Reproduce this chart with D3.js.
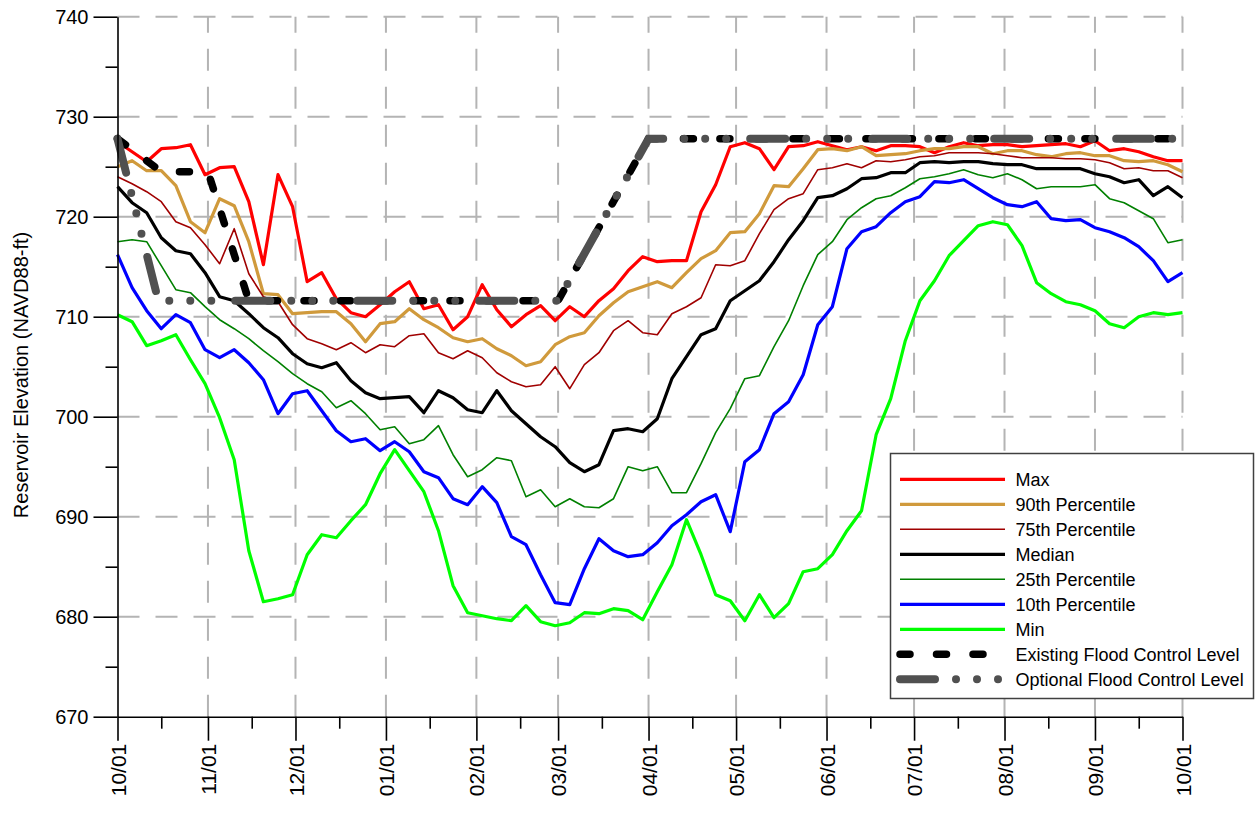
<!DOCTYPE html>
<html>
<head>
<meta charset="utf-8">
<script src="https://cdn.jsdelivr.net/npm/d3@7"></script>
<style>
  body { margin: 0; background: #fff; }
  text { font-family: "Liberation Sans", Arial, sans-serif; fill: #000; }
</style>
</head>
<body>
<div id="container"></div>
<script>
/* CONSTANTS AND GLOBALS */
const width = 1255,
  height = 816,
  plot = { left: 117.5, right: 1182.5, top: 16.7, bottom: 716.7 };

const startDate = new Date(2001, 9, 1),
  endDate = new Date(2002, 9, 1);

// values are read every 5 days starting at 10/01 (last one is 10/01 next year)
const stepDays = 5;

const maxVals = [727.5, 726.5, 725.5, 726.8, 726.9, 727.2, 724.2, 724.9, 725.0, 721.5,
  715.2, 724.2, 721.0, 713.5, 714.4, 711.8, 710.4, 710.0, 711.2, 712.5,
  713.5, 710.8, 711.2, 708.7, 710.0, 713.2, 710.7, 709.0, 710.2, 711.1,
  709.6, 711.0, 710.0, 711.6, 712.8, 714.6, 716.0, 715.5, 715.6, 715.6,
  720.5, 723.2, 727.0, 727.4, 726.8, 724.7, 727.0, 727.1, 727.5, 727.1,
  726.7, 727.0, 726.6, 727.1, 727.1, 727.0, 726.4, 727.0, 727.4, 727.1,
  727.2, 727.2, 727.0, 727.1, 727.2, 727.3, 727.0, 727.6, 726.6, 726.8,
  726.5, 726.0, 725.6, 725.6];

const p90Vals = [725.0, 725.6, 724.6, 724.6, 723.1, 719.5, 718.4, 721.8, 721.1, 717.5,
  712.3, 712.2, 710.3, 710.4, 710.5, 710.5, 709.3, 707.5, 709.3, 709.5,
  710.8, 709.7, 708.9, 707.9, 707.5, 707.8, 706.8, 706.1, 705.1, 705.5,
  707.2, 708.0, 708.4, 710.1, 711.4, 712.5, 713.0, 713.5, 712.9, 714.4,
  715.8, 716.6, 718.4, 718.5, 720.3, 723.1, 723.0, 724.8, 726.7, 726.8,
  726.6, 727.0, 726.1, 726.2, 726.3, 726.6, 726.8, 726.8, 727.0, 727.0,
  726.3, 726.6, 726.6, 726.2, 726.0, 726.3, 726.4, 726.1, 726.1, 725.6,
  725.5, 725.6, 725.2, 724.5];

const p75Vals = [724.0, 723.3, 722.5, 721.5, 719.5, 718.9, 717.2, 715.3, 718.8, 714.3,
  712.0, 711.5, 709.2, 707.8, 707.3, 706.7, 707.4, 706.4, 707.2, 707.0,
  708.1, 708.3, 706.4, 705.8, 706.6, 705.9, 704.4, 703.5, 703.0, 703.2,
  705.0, 702.8, 705.2, 706.4, 708.6, 709.6, 708.4, 708.2, 710.3, 711.0,
  711.9, 715.2, 715.1, 715.6, 718.3, 720.7, 721.8, 722.3, 724.7, 724.9,
  725.3, 724.9, 725.6, 725.5, 725.7, 726.0, 726.1, 726.4, 726.4, 726.4,
  726.3, 726.1, 725.9, 725.9, 725.9, 725.8, 725.8, 725.7, 725.4, 724.8,
  724.9, 724.6, 724.6, 723.9];

const medianVals = [723.0, 721.4, 720.4, 717.9, 716.6, 716.3, 714.4, 712.0, 711.6, 710.3,
  708.9, 707.9, 706.3, 705.3, 704.9, 705.4, 703.6, 702.4, 701.8, 701.9,
  702.0, 700.4, 702.6, 701.9, 700.7, 700.4, 702.6, 700.6, 699.3, 698.0,
  697.0, 695.4, 694.5, 695.2, 698.6, 698.8, 698.5, 699.8, 703.8, 706.0,
  708.2, 708.8, 711.6, 712.6, 713.6, 715.5, 717.7, 719.6, 721.9, 722.1,
  722.8, 723.8, 723.9, 724.4, 724.4, 725.4, 725.5, 725.4, 725.5, 725.5,
  725.3, 725.2, 725.2, 724.8, 724.8, 724.8, 724.8, 724.3, 724.0, 723.4,
  723.7, 722.1, 723.0, 721.9];

const p25Vals = [717.5, 717.7, 717.5, 715.1, 712.7, 712.4, 711.0, 709.7, 708.8, 707.8,
  706.6, 705.5, 704.3, 703.3, 702.5, 700.9, 701.6, 700.3, 698.7, 699.0,
  697.3, 697.7, 699.1, 696.2, 694.0, 694.7, 695.9, 695.6, 692.0, 692.7,
  691.0, 691.8, 691.0, 690.9, 691.8, 695.0, 694.6, 695.0, 692.4, 692.4,
  695.3, 698.4, 700.8, 703.8, 704.1, 707.0, 709.6, 713.1, 716.2, 717.5,
  719.7, 720.9, 721.8, 722.1, 722.9, 723.8, 724.0, 724.3, 724.7, 724.2,
  723.9, 724.3, 723.7, 722.8, 723.0, 723.0, 723.0, 723.2, 721.8, 721.4,
  720.6, 719.8, 717.4, 717.7];

const p10Vals = [716.2, 712.9, 710.6, 708.8, 710.2, 709.4, 706.7, 705.9, 706.7, 705.4,
  703.7, 700.3, 702.3, 702.6, 700.6, 698.6, 697.5, 697.8, 696.6, 697.5,
  696.5, 694.5, 693.9, 691.8, 691.2, 693.0, 691.4, 688.0, 687.2, 684.2,
  681.4, 681.2, 684.8, 687.8, 686.6, 686.0, 686.2, 687.4, 689.1, 690.2,
  691.5, 692.2, 688.5, 695.5, 696.7, 700.3, 701.5, 704.2, 709.2, 711.0,
  716.8, 718.5, 719.0, 720.4, 721.5, 722.0, 723.5, 723.4, 723.7, 722.8,
  721.9, 721.2, 721.0, 721.5, 719.8, 719.6, 719.7, 718.9, 718.5, 717.9,
  717.0, 715.6, 713.5, 714.4];

const minVals = [710.2, 709.5, 707.1, 707.6, 708.2, 705.7, 703.3, 699.9, 695.7, 686.6,
  681.5, 681.8, 682.2, 686.2, 688.2, 687.9, 689.6, 691.2, 694.3, 696.7,
  694.6, 692.5, 688.6, 683.1, 680.4, 680.1, 679.8, 679.6, 681.1, 679.5,
  679.1, 679.4, 680.4, 680.3, 680.8, 680.6, 679.7, 682.5, 685.2, 689.7,
  686.2, 682.2, 681.6, 679.6, 682.2, 679.9, 681.3, 684.5, 684.8, 686.2,
  688.6, 690.6, 698.2, 701.8, 707.6, 711.6, 713.6, 716.1, 717.6, 719.1,
  719.5, 719.2, 717.1, 713.4, 712.3, 711.5, 711.2, 710.6, 709.3, 708.9,
  710.0, 710.4, 710.2, 710.4];

// flood control levels: day offset from 10/01 and elevation
const existDays = [0, 15, 31, 45, 151, 182, 365];
const existVals = [727.8, 724.5, 724.5, 711.6, 711.6, 727.8, 727.8];
const optDays = [0, 14, 151, 182, 365];
const optVals = [727.8, 711.6, 711.6, 727.8, 727.8];

const yTicks = [670, 680, 690, 700, 710, 720, 730, 740];
const yMinorTicks = [675, 685, 695, 705, 715, 725, 735];

const seriesInfo = [
  { name: "Max", vals: maxVals, color: "#ff0000", w: 3.2 },
  { name: "90th Percentile", vals: p90Vals, color: "#d09a3c", w: 3.2 },
  { name: "75th Percentile", vals: p75Vals, color: "#a00000", w: 1.6 },
  { name: "Median", vals: medianVals, color: "#000000", w: 3.2 },
  { name: "25th Percentile", vals: p25Vals, color: "#008000", w: 1.6 },
  { name: "10th Percentile", vals: p10Vals, color: "#0000ff", w: 3.2 },
  { name: "Min", vals: minVals, color: "#00ff00", w: 3.2 }
];

const floodInfo = [
  { name: "Existing Flood Control Level", days: existDays, vals: existVals,
    color: "#000000", w: 7.5, dash: "10 26.5" },
  { name: "Optional Flood Control Level", days: optDays, vals: optVals,
    color: "#505050", w: 8, dash: "35 21 0 21 0 21 0 24" }
];

/* SCALES */
const xScale = d3.scaleTime()
  .domain([startDate, endDate])
  .range([plot.left, plot.right]);

const yScale = d3.scaleLinear()
  .domain([670, 740])
  .range([plot.bottom, plot.top]);

const svg = d3.select("#container")
  .append("svg")
  .attr("width", width)
  .attr("height", height);

/* GRID */
const months = d3.timeMonth.range(startDate, d3.timeDay.offset(endDate, 1));
const grid = svg.append("g")
  .attr("stroke", "#b4b4b4")
  .attr("stroke-width", 2)
  .attr("stroke-dasharray", "22 16");

grid.selectAll(".vgrid")
  .data(months.slice(1))
  .join("line")
  .attr("class", "vgrid")
  .attr("x1", d => xScale(d)).attr("x2", d => xScale(d))
  .attr("y1", plot.bottom).attr("y2", plot.top);

grid.selectAll(".hgrid")
  .data(yTicks.slice(1))
  .join("line")
  .attr("class", "hgrid")
  .attr("x1", plot.left).attr("x2", plot.right)
  .attr("y1", d => yScale(d)).attr("y2", d => yScale(d));

/* LINES */
const lineGen = d3.line()
  .x(d => xScale(d.date))
  .y(d => yScale(d.value));

svg.selectAll(".series")
  .data(seriesInfo)
  .join("path")
  .attr("class", "series")
  .attr("fill", "none")
  .attr("stroke", d => d.color)
  .attr("stroke-width", d => d.w)
  .attr("stroke-linejoin", "round")
  .attr("d", s => lineGen(s.vals.map((v, i) => ({
    date: d3.timeDay.offset(startDate, Math.min(i * stepDays, 365)),
    value: v
  }))));

svg.selectAll(".flood")
  .data(floodInfo)
  .join("path")
  .attr("class", "flood")
  .attr("fill", "none")
  .attr("stroke", d => d.color)
  .attr("stroke-width", d => d.w)
  .attr("stroke-linecap", "round")
  .attr("stroke-dasharray", d => d.dash)
  .attr("d", s => lineGen(s.days.map((day, i) => ({
    date: d3.timeDay.offset(startDate, day),
    value: s.vals[i]
  }))));

/* AXES */
const tickLen = 24, minorLen = 12;

const yAxis = d3.axisLeft(yScale)
  .tickValues(yTicks)
  .tickSize(tickLen)
  .tickSizeOuter(0)
  .tickPadding(5)
  .tickFormat(d3.format("d"));

const yAxisGroup = svg.append("g")
  .attr("transform", `translate(${plot.left}, 0)`)
  .call(yAxis);

svg.append("g")
  .attr("transform", `translate(${plot.left}, 0)`)
  .call(d3.axisLeft(yScale).tickValues(yMinorTicks).tickSize(minorLen).tickSizeOuter(0).tickFormat(""))
  .select(".domain").remove();

const xAxis = d3.axisBottom(xScale)
  .tickValues(months)
  .tickSize(tickLen)
  .tickSizeOuter(0)
  .tickFormat(d3.timeFormat("%m/%d"));

const xAxisGroup = svg.append("g")
  .attr("transform", `translate(0, ${plot.bottom})`)
  .call(xAxis);

svg.append("g")
  .attr("transform", `translate(0, ${plot.bottom})`)
  .call(d3.axisBottom(xScale)
    .tickValues(months.slice(0, 12).map(d => d3.timeDay.offset(d, 15)))
    .tickSize(minorLen).tickSizeOuter(0).tickFormat(""))
  .select(".domain").remove();

svg.selectAll(".domain, .tick line")
  .attr("stroke", "#000")
  .attr("stroke-width", 1.6);

svg.selectAll(".tick text")
  .style("font-size", "20px")
  .style("font-family", "'Liberation Sans', Arial, sans-serif");

xAxisGroup.selectAll("text")
  .attr("transform", "rotate(-90)")
  .attr("text-anchor", "end")
  .attr("x", -(tickLen + 3))
  .attr("y", 0)
  .attr("dy", "0.36em")
  .style("font-size", "21px");

svg.append("text")
  .attr("transform", `translate(28, 375) rotate(-90)`)
  .attr("text-anchor", "middle")
  .style("font-size", "20px")
  .text("Reservoir Elevation (NAVD88-ft)");

/* LEGEND */
const legend = svg.append("g");
legend.append("rect")
  .attr("x", 890.5).attr("y", 453.5)
  .attr("width", 363).attr("height", 245)
  .attr("fill", "#fff")
  .attr("stroke", "#404040")
  .attr("stroke-width", 1.5);

const legendRows = [...seriesInfo, ...floodInfo];
const rowY = i => 479.3 + i * 25;

legend.selectAll(".lgline")
  .data(legendRows)
  .join("line")
  .attr("class", "lgline")
  .attr("x1", 900).attr("x2", 1005)
  .attr("y1", (d, i) => rowY(i)).attr("y2", (d, i) => rowY(i))
  .attr("stroke", d => d.color)
  .attr("stroke-width", d => d.w)
  .attr("stroke-linecap", d => d.dash ? "round" : "butt")
  .attr("stroke-dasharray", d => d.dash || null);

legend.selectAll(".lgtext")
  .data(legendRows)
  .join("text")
  .attr("class", "lgtext")
  .attr("x", 1015.5)
  .attr("y", (d, i) => rowY(i))
  .attr("dy", "0.35em")
  .style("font-size", "18px")
  .text(d => d.name);
</script>
</body>
</html>
